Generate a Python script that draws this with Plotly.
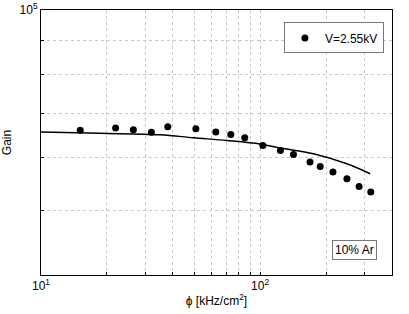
import plotly.graph_objects as go

# measured data (V=2.55kV)
phi = [15.1, 21.9, 26.4, 31.9, 37.9, 50.9, 62.8, 73.5, 85.1, 102.9, 123.8, 142, 169, 188, 215, 249, 283, 320]
gain = [66000, 66500, 66100, 65500, 66800, 66300, 65600, 65000, 64300, 62600, 61500, 60700, 59100, 58200, 57100, 55800, 54300, 53300]

# model curve
phi_fit = [10, 18.6, 34.9, 49.6, 70.5, 100, 123.4, 175.2, 248.9, 317.9]
gain_fit = [65560, 65290, 64960, 64290, 63680, 62900, 62040, 60830, 58750, 56760]

x_ticks = [10, 20, 30, 40, 50, 60, 70, 80, 90, 100, 200, 300, 400]
x_ticktext = ["10<sup>1</sup>"] + [""] * 8 + ["10<sup>2</sup>", "", "", ""]
y_ticks = [40000, 50000, 60000, 70000, 80000, 90000, 100000]
y_ticktext = [""] * 6 + ["10<sup>5</sup>"]

fig = go.Figure()
fig.add_trace(go.Scatter(x=phi_fit, y=gain_fit, mode="lines", line=dict(color="black", width=1.5, shape="spline"),
                         showlegend=False))
fig.add_trace(go.Scatter(x=phi, y=gain, mode="markers", marker=dict(color="black", size=7),
                         name="V=2.55kV"))

fig.add_annotation(x=0.894, y=0.0925, xref="paper", yref="paper", xanchor="center", yanchor="middle",
                   text="10% Ar", showarrow=False,
                   font=dict(size=12, color="black"), bordercolor="#777", borderwidth=1, borderpad=2,
                   bgcolor="white")

axis_common = dict(showgrid=True, gridcolor="#c8c8c8", griddash="dot", gridwidth=1,
                   showline=True, linecolor="black", linewidth=1, mirror=True,
                   ticks="inside", ticklen=3, tickcolor="black", zeroline=False, automargin=False,
                   tickfont=dict(size=12, color="black"))

fig.update_layout(
    width=409, height=314,
    margin=dict(l=41, r=17, t=10, b=39),
    paper_bgcolor="white", plot_bgcolor="white",
    font=dict(family="Liberation Sans, Arial, sans-serif", size=12, color="black"),
    xaxis=dict(type="log", range=[1, 2.602], tickmode="array", tickvals=x_ticks, ticktext=x_ticktext,
               title=dict(text="ϕ [kHz/cm<sup>2</sup>]", font=dict(size=12), standoff=4), **axis_common),
    yaxis=dict(type="log", range=[4.60206, 5], tickmode="array", tickvals=y_ticks, ticktext=y_ticktext,
               title=dict(text="Gain", font=dict(size=12), standoff=14), **axis_common),
    legend=dict(x=0.977, y=0.953, xanchor="right", yanchor="top", bgcolor="white",
                bordercolor="#777", borderwidth=1, font=dict(size=12), itemwidth=30,
                tracegroupgap=0),
)

fig.write_html("out.html", config={"displayModeBar": False},
               post_script="document.body.style.margin='0px';")
